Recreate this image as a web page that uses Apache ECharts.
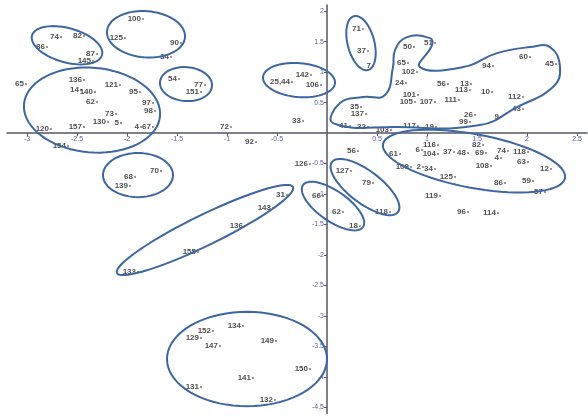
<!DOCTYPE html>
<html>
<head>
<meta charset="utf-8">
<script src="https://cdn.jsdelivr.net/npm/echarts@6/dist/echarts.min.js"></script>
<style>
  html, body { margin: 0; padding: 0; background: #ffffff; }
  #chart { width: 588px; height: 417px; }
</style>
</head>
<body>
<div id="chart"></div>
<script>
// Case labels and their coordinates on the two dimensions
const pointLabels = [
  '74','82','86','87','145',
  '100','125','90','34',
  '65',
  '136','121','95','14','140','62','97','73','98','157','130','5','4','67','120','154',
  '54','77','151',
  '72','92','33',
  '25,44','142','106',
  '126','56',
  '71','37','7',
  '50','51','65','102','24','56','13','113','10','111','101','105','107','112','43','94','60','45','26','9','99','35','137','41','32','103','117','19',
  '61','116','6','104','37','48','69','82','74','118','4','108','63','12','109','2','34','125','86','59','57','119','96','114',
  '127','79','118','66','62','18',
  '31','143','136','155','133',
  '70','68','139',
  '152','134','129','147','149','150','141','131','132'
];
const pointX = [
  -2.66,-2.43,-2.80,-2.30,-2.34,
  -1.84,-2.02,-1.46,-1.56,
  -3.01,
  -2.43,-2.07,-1.87,-2.46,-2.32,-2.30,-1.74,-2.11,-1.72,-2.43,-2.19,-2.06,-1.86,-1.74,-2.76,-2.59,
  -1.48,-1.22,-1.26,
  -0.96,-0.71,-0.24,
  -0.35,-0.16,-0.06,
  -0.17,0.31,
  0.36,0.41,0.46,
  0.87,1.08,0.81,0.90,0.79,1.21,1.44,1.43,1.65,1.32,0.91,0.88,1.08,1.96,1.96,1.66,2.03,2.29,1.48,1.74,1.43,0.34,0.39,0.23,0.41,0.64,0.91,1.09,
  0.73,1.11,0.95,1.11,1.27,1.41,1.59,1.56,1.81,2.01,1.74,1.64,2.01,2.24,0.84,0.96,1.08,1.28,1.78,2.06,2.18,1.13,1.41,1.71,
  0.24,0.46,0.63,-0.04,0.16,0.33,
  -0.40,-0.54,-0.82,-1.29,-1.89,
  -1.66,-1.92,-1.97,
  -1.14,-0.84,-1.26,-1.07,-0.51,-0.17,-0.74,-1.26,-0.52
];
const pointY = [
  1.574,1.590,1.410,1.295,1.180,
  1.869,1.557,1.475,1.246,
  0.803,
  0.869,0.787,0.672,0.705,0.672,0.508,0.492,0.311,0.361,0.098,0.180,0.164,0.098,0.098,0.066,-0.213,
  0.885,0.787,0.672,
  0.098,-0.148,0.197,
  0.836,0.951,0.787,
  -0.508,-0.295,
  1.705,1.344,1.098,
  1.410,1.475,1.148,1.000,0.820,0.803,0.803,0.705,0.672,0.541,0.623,0.508,0.508,0.590,0.393,1.098,1.246,1.131,0.295,0.262,0.180,0.426,0.311,0.115,0.098,0.049,0.115,0.098,
  -0.344,-0.197,-0.279,-0.344,-0.311,-0.328,-0.328,-0.197,-0.295,-0.311,-0.410,-0.541,-0.475,-0.590,-0.557,-0.557,-0.590,-0.721,-0.820,-0.787,-0.967,-1.033,-1.295,-1.311,
  -0.623,-0.820,-1.295,-1.033,-1.295,-1.525,
  -1.016,-1.230,-1.525,-1.951,-2.279,
  -0.623,-0.721,-0.869,
  -3.246,-3.164,-3.361,-3.492,-3.410,-3.869,-4.016,-4.164,-4.377
];

// Tick positions on both axes (origin left unlabelled)
const xTickValues = [-3, -2.5, -2, -1.5, -1, -0.5, 0.5, 1, 1.5, 2, 2.5];
const yTickValues = [-4.5, -4, -3.5, -3, -2.5, -2, -1.5, -1, -0.5, 0.5, 1, 1.5, 2];

// Axis ranges
const xRange = [-3.2, 2.6];
const yRange = [-4.6, 2.1];

// Cluster outlines in data units: centre, end of the long half-axis, short/long ratio
const clusterCentres = [
  [-2.60, 1.44], [-1.81, 1.62], [-2.35, 0.377], [-1.41, 0.803], [-1.89, -0.689],
  [-1.22, -1.59], [-0.80, -3.705], [-0.28, 0.869], [0.34, 1.475], [0.38, -0.885],
  [0.06, -1.197], [1.47, -0.459]
];
const clusterAxisEnds = [
  [-2.25, 1.28], [-1.42, 1.57], [-1.67, 0.279], [-1.15, 0.77], [-1.54, -0.689],
  [-0.34, -0.885], [0.0, -3.705], [0.08, 0.82], [0.41, 1.033], [0.71, -1.295],
  [0.36, -1.541], [2.38, -0.738]
];
const clusterRatios = [0.47, 0.59, 0.62, 0.65, 0.63, 0.155, 0.59, 0.47, 0.48, 0.39, 0.41, 0.29];

// Free-hand outline around the upper-right cluster
const upperRightOutline = [
  [0.06, 0.164], [0.13, 0.492], [0.36, 0.590], [0.58, 0.623], [0.66, 1.082],
  [0.68, 1.361], [0.80, 1.574], [1.03, 1.557], [1.05, 1.443], [0.93, 1.082],
  [1.36, 1.082], [1.70, 1.311], [2.03, 1.410], [2.23, 1.410], [2.33, 1.082],
  [2.26, 0.754], [1.90, 0.426], [1.53, 0.131], [0.70, 0.098]
];

const outlineColor = '#3d67a0';
const tickColor = '#5b5bb0';
const axisColor = '#555566';

const gridBox = { left: 7, right: 1, top: 5, bottom: 3.4 };
const chartW = 588, chartH = 417;
const plotW = chartW - gridBox.left - gridBox.right;
const plotH = chartH - gridBox.top - gridBox.bottom;

// The axes cross at the origin: shift each axis from the grid edge onto zero
const yAxisShift = -plotW * (0 - xRange[0]) / (xRange[1] - xRange[0]);
const xAxisShift = -plotH * (0 - yRange[0]) / (yRange[1] - yRange[0]);

const chart = echarts.init(document.getElementById('chart'), null, { renderer: 'canvas' });

const seriesData = pointLabels.map((name, i) => [pointX[i], pointY[i], name]);

chart.setOption({
  animation: false,
  backgroundColor: '#ffffff',
  grid: Object.assign({ containLabel: false }, gridBox),
  xAxis: {
    type: 'value',
    min: xRange[0],
    max: xRange[1],
    offset: xAxisShift,
    splitLine: { show: false },
    axisLine: { onZero: false, lineStyle: { color: axisColor, width: 1.5 } },
    axisTick: { show: true, customValues: xTickValues, length: 3, lineStyle: { color: axisColor } },
    axisLabel: {
      customValues: xTickValues, color: tickColor,
      fontSize: 7, fontFamily: 'Liberation Sans, Arial', margin: 2
    }
  },
  yAxis: {
    type: 'value',
    min: yRange[0],
    max: yRange[1],
    offset: yAxisShift,
    splitLine: { show: false },
    axisLine: { onZero: false, lineStyle: { color: axisColor, width: 1.5 } },
    axisTick: { show: true, customValues: yTickValues, length: 3, lineStyle: { color: axisColor } },
    axisLabel: {
      customValues: yTickValues, color: tickColor,
      fontSize: 7, fontFamily: 'Liberation Sans, Arial', margin: 3
    }
  },
  series: [{
    type: 'scatter',
    data: seriesData,
    symbol: 'circle',
    symbolSize: 2,
    itemStyle: { color: '#555555' },
    label: {
      show: true,
      position: 'left',
      distance: 1,
      offset: [0, -4],
      formatter: p => p.value[2],
      color: '#222222',
      fontSize: 8,
      fontWeight: 'bold',
      fontFamily: 'Liberation Sans, Arial'
    },
    labelLayout: { hideOverlap: false }
  }]
});

// Draw the cluster outlines on top of the plot, positioned through the axes
function toPx(p) {
  return chart.convertToPixel({ gridIndex: 0 }, p);
}

const graphics = [];
clusterCentres.forEach((c, i) => {
  const cp = toPx(c);
  const ep = toPx(clusterAxisEnds[i]);
  const ax = ep[0] - cp[0], ay = ep[1] - cp[1];
  const r = clusterRatios[i];
  const bx = -ay * r, by = ax * r;
  const pts = [];
  const n = 72;
  for (let k = 0; k < n; k++) {
    const t = (k / n) * Math.PI * 2;
    pts.push([cp[0] + ax * Math.cos(t) + bx * Math.sin(t), cp[1] + ay * Math.cos(t) + by * Math.sin(t)]);
  }
  graphics.push({
    type: 'polygon',
    shape: { points: pts },
    style: { fill: 'none', stroke: outlineColor, lineWidth: 2 },
    silent: true,
    z: 10
  });
});

graphics.push({
  type: 'polygon',
  shape: { points: upperRightOutline.map(toPx), smooth: 0.45 },
  style: { fill: 'none', stroke: outlineColor, lineWidth: 2 },
  silent: true,
  z: 10
});

chart.setOption({ graphic: graphics });
</script>
</body>
</html>
